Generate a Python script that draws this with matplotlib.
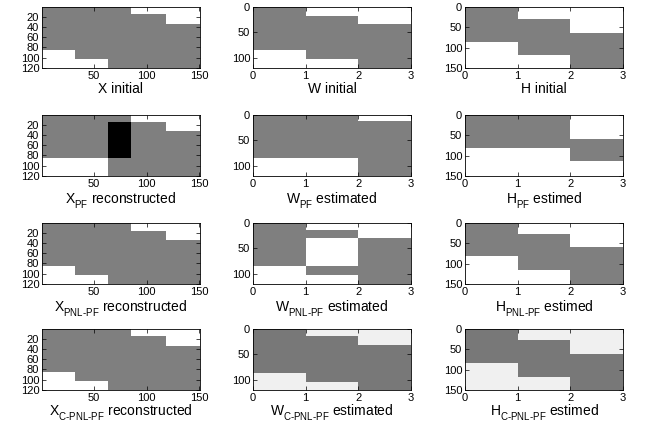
import numpy as np
import matplotlib
matplotlib.use("Agg")
import matplotlib.pyplot as plt
import matplotlib._mathtext as mtext

plt.rcParams["font.family"] = ["Liberation Sans", "DejaVu Sans"]
plt.rcParams["mathtext.fontset"] = "custom"
plt.rcParams["mathtext.rm"] = "Liberation Sans"
plt.rcParams["mathtext.it"] = "Liberation Sans:italic"
plt.rcParams["mathtext.bf"] = "Liberation Sans:bold"
# los subindices del original bajan mas que los de mathtext por defecto
mtext.FontConstantsBase.sub1 = 0.7

# niveles de gris: 0 = blanco, 0.5 = gris, 1 = negro
B, G, K = 0.0, 0.5, 1.0
# ultima fila (C-PNL-PF): fondo gris claro y gris algo mas oscuro
L, D = 0.06, 0.53

# columnas de W y H (3 componentes)
comp_edges = [0, 1, 2, 3]

# ---- fila 1: valores iniciales ----
x_init_cols = [0.5, 32, 63, 85, 118, 150.5]
x_init_rows = [0.5, 15, 33, 85, 102, 120.5]
x_init_vals = [[G, G, G, B, B],
               [G, G, G, G, B],
               [G, G, G, G, G],
               [B, G, G, G, G],
               [B, B, G, G, G]]

w_init_rows = [0, 17, 33, 85, 103, 120]
w_init_vals = [[G, B, B],
               [G, G, B],
               [G, G, G],
               [B, G, G],
               [B, B, G]]

h_init_rows = [0, 30, 63, 85, 117, 150]
h_init_vals = [[G, B, B],
               [G, G, B],
               [G, G, G],
               [B, G, G],
               [B, B, G]]

# ---- fila 2: PF ----
x_pf_cols = [0.5, 63, 85, 118, 150.5]
x_pf_rows = [0.5, 15, 32, 85, 120.5]
x_pf_vals = [[G, G, B, B],
             [G, K, G, B],
             [G, K, G, G],
             [B, G, G, G]]

w_pf_rows = [0, 12, 84, 120]
w_pf_vals = [[G, G, B],
             [G, G, G],
             [B, B, G]]

h_pf_rows = [0, 59, 82, 114, 150]
h_pf_vals = [[G, G, B],
             [G, G, G],
             [B, B, G],
             [B, B, B]]

# ---- fila 3: PNL-PF ----
x_pnl_cols = [0.5, 32, 63, 85, 118, 150.5]
x_pnl_rows = [0.5, 16, 33, 85, 103, 120.5]
x_pnl_vals = [[G, G, G, B, B],
              [G, G, G, G, B],
              [G, G, G, G, G],
              [B, G, G, G, G],
              [B, B, G, G, G]]

w_pnl_rows = [0, 14, 30, 84, 103, 120]
w_pnl_vals = [[G, B, B],
              [G, G, B],
              [G, B, G],
              [B, G, G],
              [B, B, G]]

h_pnl_rows = [0, 28, 58, 82, 116, 150]
h_pnl_vals = [[G, B, B],
              [G, G, B],
              [G, G, G],
              [B, G, G],
              [B, B, G]]

# ---- fila 4: C-PNL-PF ----
x_cpnl_cols = [0.5, 32, 63, 85, 118, 150.5]
x_cpnl_rows = [0.5, 15, 33, 85, 102, 120.5]
x_cpnl_vals = [[G, G, G, B, B],
               [G, G, G, G, B],
               [G, G, G, G, G],
               [B, G, G, G, G],
               [B, B, G, G, G]]

w_cpnl_rows = [0, 14, 32, 86, 104, 120]
w_cpnl_vals = [[D, L, L],
               [D, D, L],
               [D, D, D],
               [L, D, D],
               [L, L, D]]

h_cpnl_rows = [0, 28, 62, 84, 117, 150]
h_cpnl_vals = [[D, L, L],
               [D, D, L],
               [D, D, D],
               [L, D, D],
               [L, L, D]]

x_yticks = [20, 40, 60, 80, 100, 120]
x_xticks = [50, 100, 150]
w_yticks = [0, 50, 100]
h_yticks = [0, 50, 100, 150]
comp_ticks = [0, 1, 2, 3]

paneles = [
    [(x_init_cols, x_init_rows, x_init_vals, "X initial", x_xticks, x_yticks),
     (comp_edges, w_init_rows, w_init_vals, "W initial", comp_ticks, w_yticks),
     (comp_edges, h_init_rows, h_init_vals, "H initial", comp_ticks, h_yticks)],
    [(x_pf_cols, x_pf_rows, x_pf_vals, r"$\mathrm{X}_{\mathrm{PF}}$ reconstructed", x_xticks, x_yticks),
     (comp_edges, w_pf_rows, w_pf_vals, r"$\mathrm{W}_{\mathrm{PF}}$ estimated", comp_ticks, w_yticks),
     (comp_edges, h_pf_rows, h_pf_vals, r"$\mathrm{H}_{\mathrm{PF}}$ estimed", comp_ticks, h_yticks)],
    [(x_pnl_cols, x_pnl_rows, x_pnl_vals, r"$\mathrm{X}_{\mathrm{PNL‐PF}}$ reconstructed", x_xticks, x_yticks),
     (comp_edges, w_pnl_rows, w_pnl_vals, r"$\mathrm{W}_{\mathrm{PNL‐PF}}$ estimated", comp_ticks, w_yticks),
     (comp_edges, h_pnl_rows, h_pnl_vals, r"$\mathrm{H}_{\mathrm{PNL‐PF}}$ estimed", comp_ticks, h_yticks)],
    [(x_cpnl_cols, x_cpnl_rows, x_cpnl_vals, r"$\mathrm{X}_{\mathrm{C‐PNL‐PF}}$ reconstructed", x_xticks, x_yticks),
     (comp_edges, w_cpnl_rows, w_cpnl_vals, r"$\mathrm{W}_{\mathrm{C‐PNL‐PF}}$ estimated", comp_ticks, w_yticks),
     (comp_edges, h_cpnl_rows, h_cpnl_vals, r"$\mathrm{H}_{\mathrm{C‐PNL‐PF}}$ estimed", comp_ticks, h_yticks)],
]

W_PX, H_PX = 648, 425
fig = plt.figure(figsize=(W_PX / 100, H_PX / 100), dpi=100)

lefts = [42, 253, 465]
tops = [7, 115, 223, 329]
ancho, alto = 158, 61

for i, fila in enumerate(paneles):
    for j, (cols, rows, vals, label, xt, yt) in enumerate(fila):
        ax = fig.add_axes([lefts[j] / W_PX, (H_PX - tops[i] - alto) / H_PX,
                           ancho / W_PX, alto / H_PX])
        ax.pcolormesh(cols, rows, np.array(vals), cmap="gray_r", vmin=0, vmax=1)
        ax.set_xlim(cols[0], cols[-1])
        ax.set_ylim(rows[-1], rows[0])
        ax.set_xticks(xt)
        ax.set_yticks(yt)
        ax.tick_params(direction="in", top=True, right=True, length=3,
                       width=0.5, labelsize=8, pad=2)
        for s in ax.spines.values():
            s.set_linewidth(0.6)
        ax.set_xlabel(label, fontsize=10, labelpad=0 if i == 3 else 1)

fig.savefig("out.png", dpi=100)
